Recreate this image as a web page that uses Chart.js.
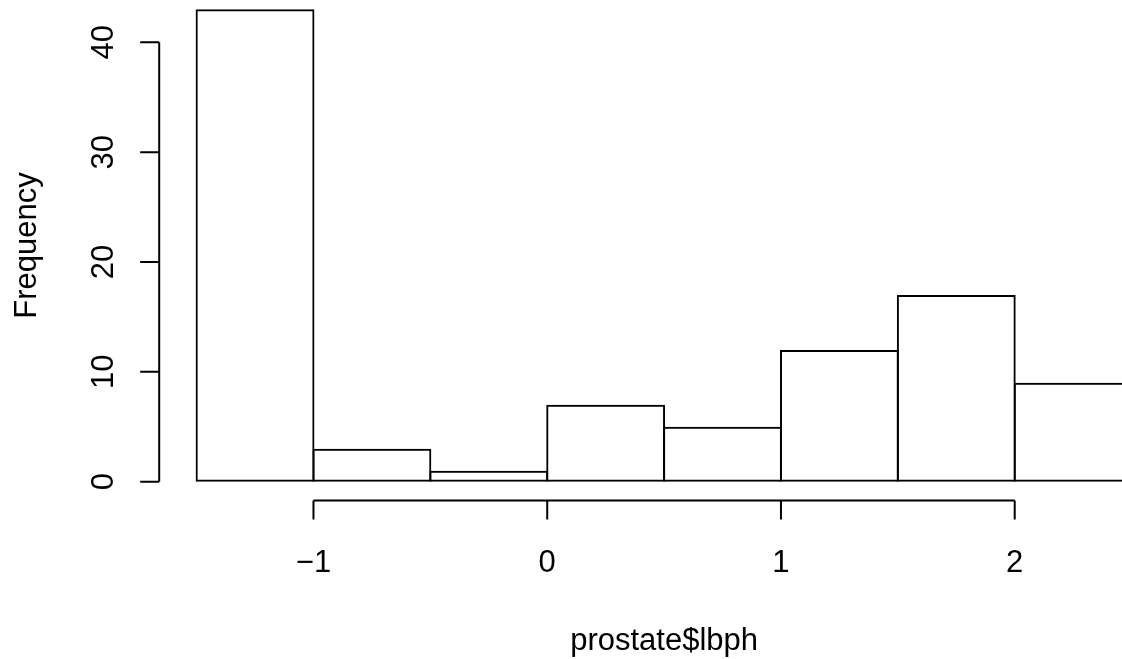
<!DOCTYPE html>
<html>
<head>
<meta charset="utf-8">
<title>prostate$lbph histogram</title>
<script src="https://cdn.jsdelivr.net/npm/chart.js@4/dist/chart.umd.min.js"></script>
<style>
    html, body { margin: 0; padding: 0; background: #fff; }
    #hist { display: block; }
</style>
</head>
<body>
<canvas id="hist" width="1122" height="659"></canvas>
<script>
// histogram bins (left edges, width 0.5) and counts
const binStarts = [-1.5, -1, -0.5, 0, 0.5, 1, 1.5, 2];
const binWidth = 0.5;
const counts = [43, 3, 1, 7, 5, 12, 17, 9];

const xTicks = [-1, 0, 1, 2];
const xTickLabels = ["\u22121", "0", "1", "2"];
const yTicks = [0, 10, 20, 30, 40];
const yTickLabels = ["0", "10", "20", "30", "40"];

const xTitle = "prostate$lbph";
const yTitle = "Frequency";

const FONT = '31px "Liberation Sans", Arial, Helvetica, sans-serif';

// R pads the data range by 4% on each side; axes sit on that edge
const xDataMin = binStarts[0];
const xDataMax = binStarts[binStarts.length - 1] + binWidth;
const yDataMax = Math.max(...counts);
const xUsrMin = xDataMin - 0.04 * (xDataMax - xDataMin);
const yUsrMin = 0 - 0.04 * yDataMax;

const rAxes = {
    id: "rAxes",
    afterDraw(chart) {
        const ctx = chart.ctx;
        const xs = chart.scales.x;
        const ys = chart.scales.y;
        ctx.save();
        ctx.strokeStyle = "#000";
        ctx.fillStyle = "#000";
        ctx.lineWidth = 2;
        ctx.lineCap = "butt";
        ctx.font = FONT;

        // y axis
        const ax = xs.getPixelForValue(xUsrMin);
        const tick = 19;
        ctx.beginPath();
        ctx.moveTo(ax, ys.getPixelForValue(yTicks[0]));
        ctx.lineTo(ax, ys.getPixelForValue(yTicks[yTicks.length - 1]));
        yTicks.forEach((v) => {
            const py = ys.getPixelForValue(v);
            ctx.moveTo(ax, py);
            ctx.lineTo(ax - tick, py);
        });
        ctx.stroke();
        ctx.textAlign = "center";
        ctx.textBaseline = "alphabetic";
        yTicks.forEach((v, i) => {
            ctx.save();
            ctx.translate(ax - 46, ys.getPixelForValue(v));
            ctx.rotate(-Math.PI / 2);
            ctx.fillText(yTickLabels[i], 0, 0);
            ctx.restore();
        });

        // x axis
        const ay = ys.getPixelForValue(yUsrMin);
        ctx.beginPath();
        ctx.moveTo(xs.getPixelForValue(xTicks[0]), ay);
        ctx.lineTo(xs.getPixelForValue(xTicks[xTicks.length - 1]), ay);
        xTicks.forEach((v) => {
            const px = xs.getPixelForValue(v);
            ctx.moveTo(px, ay);
            ctx.lineTo(px, ay + tick);
        });
        ctx.stroke();
        xTicks.forEach((v, i) => {
            ctx.fillText(xTickLabels[i], xs.getPixelForValue(v), ay + 71);
        });

        // axis titles
        ctx.fillText(xTitle, xs.getPixelForValue((xDataMin + xDataMax) / 2), ay + 149);
        ctx.save();
        ctx.translate(36, ys.getPixelForValue(yDataMax / 2));
        ctx.rotate(-Math.PI / 2);
        ctx.fillText(yTitle, 0, 0);
        ctx.restore();

        ctx.restore();
    }
};

const points = binStarts.map((s, i) => ({ x: s + binWidth / 2, y: counts[i] }));

new Chart(document.getElementById("hist"), {
    type: "bar",
    data: {
        datasets: [{
            data: points,
            backgroundColor: "rgba(0,0,0,0)",
            borderColor: "#000",
            borderWidth: 2,
            borderSkipped: false,
            barPercentage: 1.017,
            categoryPercentage: 1,
            clip: false,
        }],
    },
    options: {
        responsive: false,
        animation: false,
        devicePixelRatio: 1,
        layout: { padding: { left: 196.6, right: 0, top: 0, bottom: 177.3 } },
        plugins: { legend: { display: false }, tooltip: { enabled: false } },
        scales: {
            x: {
                type: "linear",
                display: false,
                offset: false,
                grid: { offset: false },
                min: -1.5,
                max: 2.459,
                afterBuildTicks: (scale) => { scale.ticks = xTicks.map((v) => ({ value: v })); },
            },
            y: {
                type: "linear",
                display: false,
                min: 0,
                max: 43.85,
            },
        },
    },
    plugins: [rAxes],
});
</script>
</body>
</html>
